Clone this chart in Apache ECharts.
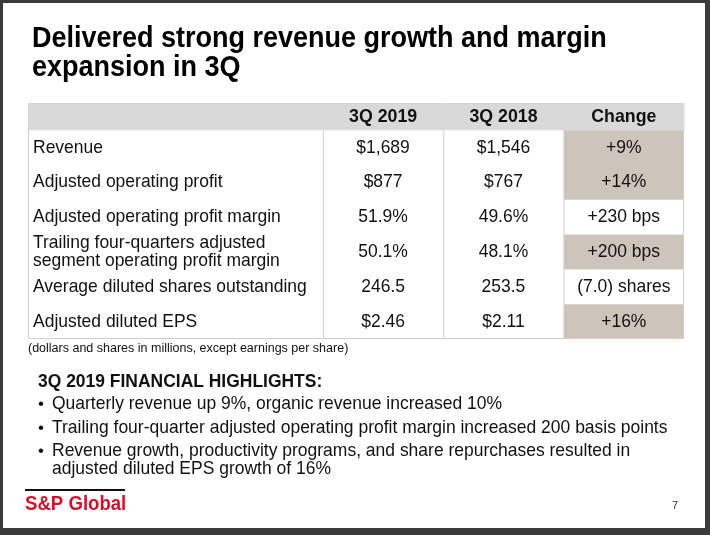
<!DOCTYPE html>
<html lang="en">
<head>
<meta charset="UTF-8">
<title>Delivered strong revenue growth and margin expansion in 3Q</title>
<style>
    html, body { margin: 0; padding: 0; background: #3b3b3b; }
    #chart { width: 710px; height: 535px; }
</style>
<script src="https://cdn.jsdelivr.net/npm/echarts@6/dist/echarts.min.js"></script>
</head>
<body>
<div id="chart"></div>
<script>
    // table content
    const columns = ['', '3Q 2019', '3Q 2018', 'Change'];
    const metrics = [
        'Revenue',
        'Adjusted operating profit',
        'Adjusted operating profit margin',
        'Trailing four-quarters adjusted\nsegment operating profit margin',
        'Average diluted shares outstanding',
        'Adjusted diluted EPS'
    ];
    const q3_2019 = ['$1,689', '$877', '51.9%', '50.1%', '246.5', '$2.46'];
    const q3_2018 = ['$1,546', '$767', '49.6%', '48.1%', '253.5', '$2.11'];
    const changes = ['+9%', '+14%', '+230 bps', '+200 bps', '(7.0) shares', '+16%'];
    const changeShaded = [true, true, false, true, false, true];

    const footnote = '(dollars and shares in millions, except earnings per share)';
    const highlightTitle = '3Q 2019 FINANCIAL HIGHLIGHTS:';
    const highlights = [
        'Quarterly revenue up 9%, organic revenue increased 10%',
        'Trailing four-quarter adjusted operating profit margin increased 200 basis points',
        'Revenue growth, productivity programs, and share repurchases resulted in\nadjusted diluted EPS growth of 16%'
    ];

    const FONT = "'Liberation Sans', Arial, sans-serif";
    const colWidths = [2.45, 1, 1, 1];   // label column is wider
    const HEADER = 0.78;                 // header row height in row units

    const colStart = [0];
    colWidths.forEach((w, i) => colStart.push(colStart[i] + w));

    // one entry per cell: [col, row]; row -1 is the header
    const cells = [];
    for (let c = 0; c < 4; c++) cells.push([c, -1]);
    metrics.forEach((m, r) => {
        for (let c = 0; c < 4; c++) cells.push([c, r]);
    });

    function cellText(c, r) {
        if (r < 0) return columns[c];
        return [metrics, q3_2019, q3_2018, changes][c][r];
    }

    function renderCell(params, api) {
        const c = api.value(0), r = api.value(1);
        const header = r < 0;
        const p0 = api.coord([colStart[c], header ? -HEADER : r]);
        const p1 = api.coord([colStart[c] + colWidths[c], header ? 0 : r + 1]);
        const children = [];
        let fill = null;
        if (header) fill = '#d9d9d9';
        else if (c === 3 && changeShaded[r]) fill = '#cdc5ba';
        if (fill) {
            children.push({
                type: 'rect',
                shape: { x: p0[0], y: p0[1], width: p1[0] - p0[0] + (header ? 0.5 : 0), height: p1[1] - p0[1] },
                style: { fill: fill }
            });
        }
        if (!header) {
            const line = (x1, y1, x2, y2) => children.push({
                type: 'line',
                shape: { x1: x1, y1: y1, x2: x2, y2: y2 },
                style: { stroke: '#cfcfcf', lineWidth: 1 }
            });
            line(p0[0] + 0.5, p0[1], p0[0] + 0.5, p1[1]);
            if (c === 3) line(p1[0] - 0.5, p0[1], p1[0] - 0.5, p1[1]);
            if (r === metrics.length - 1) line(p0[0], p1[1] - 0.5, p1[0], p1[1] - 0.5);
        }
        // slightly condensed text, as on the slide
        children.push({
            type: 'text',
            x: c === 0 ? p0[0] + 5 : (p0[0] + p1[0]) / 2,
            y: (p0[1] + p1[1]) / 2,
            scaleX: header ? 0.96 : 0.945,
            style: {
                text: cellText(c, r),
                x: 0,
                y: 0,
                align: c === 0 ? 'left' : 'center',
                verticalAlign: 'middle',
                fontFamily: FONT,
                fontSize: 18.5,
                fontWeight: header ? 'bold' : 'normal',
                lineHeight: 18,
                fill: '#111'
            }
        });
        return { type: 'group', children: children };
    }

    const txt = (x, y, text, size, extra, sx) => ({
        type: 'text', x: x, y: y, scaleX: sx || 1,
        style: Object.assign({
            text: text, fontFamily: FONT, fontSize: size, fill: '#111',
            verticalAlign: 'middle'
        }, extra || {})
    });

    const graphics = [
        { type: 'rect', z: -10, shape: { x: 3, y: 3, width: 702, height: 525 }, style: { fill: '#fff' } },
        txt(32, 39, 'Delivered strong revenue growth and margin', 30, { fontWeight: 'bold', fill: '#000' }, 0.9),
        txt(32, 68, 'expansion in 3Q', 30, { fontWeight: 'bold', fill: '#000' }, 0.9),
        txt(28, 349, footnote, 12.5),
        txt(38, 382, highlightTitle, 18, { fontWeight: 'bold' }, 0.97),
        txt(672, 506, '7', 11, { fill: '#333' }),
        { type: 'rect', shape: { x: 25, y: 489, width: 100, height: 2 }, style: { fill: '#111' } },
        txt(25, 504, 'S&P Global', 20, { fontWeight: 'bold', fill: '#d0112b' }, 0.93)
    ];
    const bulletY = [404, 428, 460];
    highlights.forEach((h, i) => {
        graphics.push(txt(38, bulletY[i] - (i === 2 ? 9 : 0), '\u2022', 17));
        graphics.push(txt(52, bulletY[i], h, 18.5, { lineHeight: 18 }, 0.945));
    });

    const chart = echarts.init(document.getElementById('chart'));
    chart.setOption({
        animation: false,
        backgroundColor: 'transparent',
        grid: { left: 28, top: 103, width: 656, height: 236 },
        xAxis: { type: 'value', min: 0, max: colStart[4], show: false },
        yAxis: { type: 'value', min: -HEADER, max: metrics.length, inverse: true, show: false },
        series: [{
            type: 'custom',
            renderItem: renderCell,
            clip: false,
            data: cells
        }],
        graphic: graphics
    });
</script>
</body>
</html>
